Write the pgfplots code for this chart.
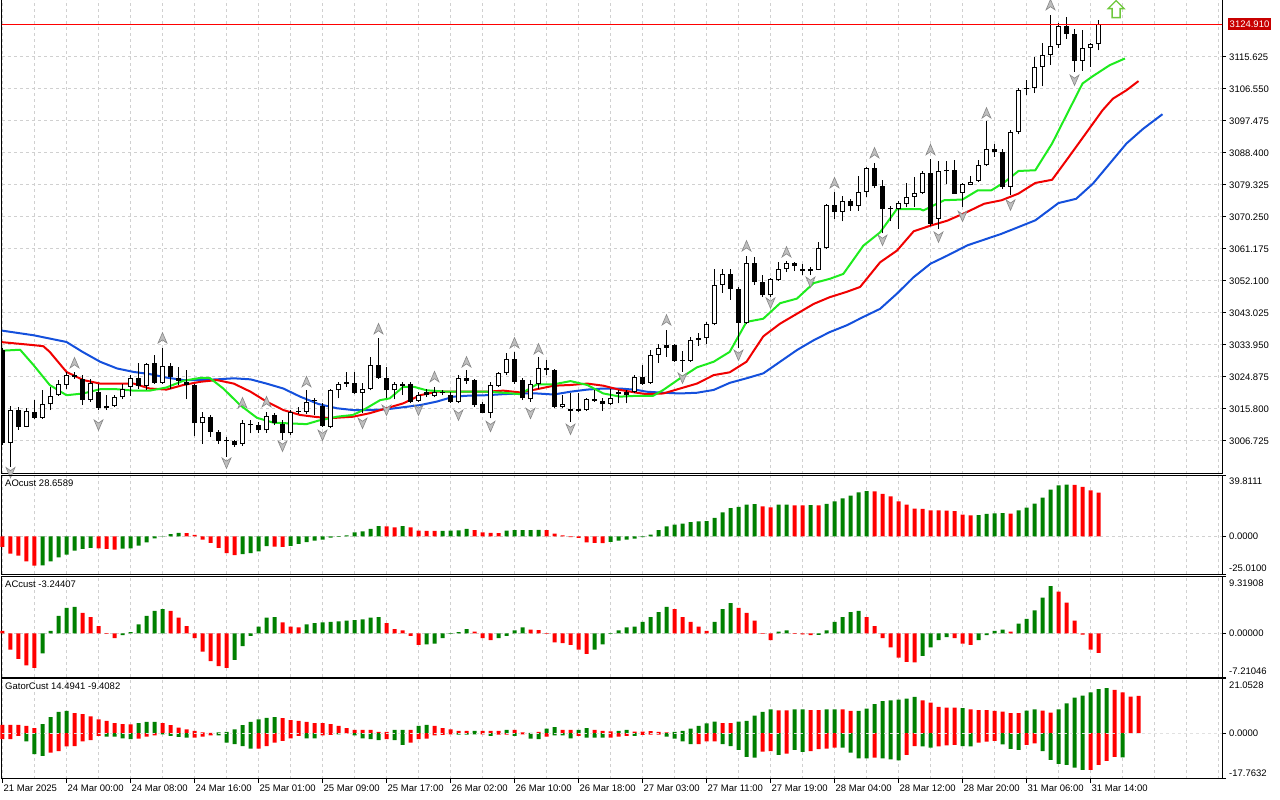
\documentclass[border=0pt]{standalone}
\usepackage{pgfplots}
\pgfplotsset{compat=1.18}
\usepackage{pgfplotstable}
\usepackage{fontspec}
\setmainfont{Liberation Sans}
\newcommand\lab{\fontsize{9.5}{11}\selectfont}
\definecolor{gridc}{RGB}{208,208,208}
\definecolor{jaw}{RGB}{20,80,220}
\definecolor{teeth}{RGB}{240,0,0}
\definecolor{lips}{RGB}{30,235,30}
\definecolor{hgreen}{RGB}{0,128,0}
\definecolor{hred}{RGB}{255,0,0}
\definecolor{frf}{RGB}{190,190,190}
\definecolor{frd}{RGB}{135,135,135}
\definecolor{sig}{RGB}{110,200,60}
\definecolor{pricebox}{RGB}{200,0,0}

\pgfdeclareplotmark{fup}{%
  \pgfpathmoveto{\pgfpoint{0pt}{5.5pt}}%
  \pgfpathlineto{\pgfpoint{4.5pt}{-5pt}}%
  \pgfpathlineto{\pgfpoint{0pt}{-1.8pt}}%
  \pgfpathlineto{\pgfpoint{-4.5pt}{-5pt}}%
  \pgfpathclose\pgfusepathqfillstroke}
\pgfdeclareplotmark{fdn}{%
  \pgfpathmoveto{\pgfpoint{0pt}{-5.5pt}}%
  \pgfpathlineto{\pgfpoint{4.5pt}{5pt}}%
  \pgfpathlineto{\pgfpoint{0pt}{1.8pt}}%
  \pgfpathlineto{\pgfpoint{-4.5pt}{5pt}}%
  \pgfpathclose\pgfusepathqfillstroke}
\pgfdeclareplotmark{sigup}{%
  \pgfpathmoveto{\pgfpoint{0pt}{8.5pt}}%
  \pgfpathlineto{\pgfpoint{8pt}{0.5pt}}%
  \pgfpathlineto{\pgfpoint{4pt}{0.5pt}}%
  \pgfpathlineto{\pgfpoint{4pt}{-8.5pt}}%
  \pgfpathlineto{\pgfpoint{-4pt}{-8.5pt}}%
  \pgfpathlineto{\pgfpoint{-4pt}{0.5pt}}%
  \pgfpathlineto{\pgfpoint{-8pt}{0.5pt}}%
  \pgfpathclose\pgfusepathqfillstroke}

\pgfplotstableread{
i o h l c
0 3032.46 3033.0 3005.5 3006.07
1 3006.26 3016.63 2999.47 3015.5
2 3015.5 3016.25 3009.84 3010.78
3 3010.8 3016.0 3010.6 3015.2
4 3014.9 3018.3 3013.0 3013.3
5 3013.3 3021.3 3013.0 3017.1
6 3017.1 3022.1 3015.5 3019.6
7 3019.7 3024.0 3019.5 3023.0
8 3022.6 3026.3 3021.6 3025.4
9 3025.4 3026.2 3024.4 3024.8
10 3024.4 3025.4 3016.9 3018.3
11 3018.3 3024.4 3017.9 3023.2
12 3020.7 3023.0 3015.5 3016.0
13 3016.6 3019.7 3015.5 3016.0
14 3016.6 3019.7 3016.3 3019.1
15 3019.1 3023.0 3018.5 3021.6
16 3022.1 3025.4 3019.5 3024.7
17 3024.7 3028.9 3021.6 3022.3
18 3022.3 3028.9 3021.2 3028.5
19 3028.9 3031.0 3023.0 3023.2
20 3023.2 3033.2 3023.0 3027.9
21 3027.9 3028.9 3021.6 3024.9
22 3024.5 3027.7 3022.6 3023.8
23 3023.5 3026.8 3018.5 3022.6
24 3022.6 3023.0 3008.0 3011.7
25 3011.7 3015.0 3005.9 3013.6
26 3013.6 3014.1 3007.8 3009.4
27 3009.4 3009.8 3005.9 3006.8
28 3006.8 3007.8 3002.3 3006.6
29 3006.6 3007.0 3005.1 3005.6
30 3005.9 3012.7 3005.3 3011.9
31 3011.2 3012.7 3008.9 3011.4
32 3011.2 3012.2 3009.1 3009.7
33 3009.7 3015.0 3009.1 3013.9
34 3014.1 3014.6 3011.2 3011.7
35 3011.5 3012.7 3007.0 3008.9
36 3008.9 3015.5 3008.4 3015.0
37 3014.9 3016.4 3014.5 3015.2
38 3015.0 3021.1 3014.5 3017.9
39 3018.0 3018.8 3014.0 3018.2
40 3016.6 3017.4 3010.8 3011.0
41 3010.8 3021.6 3010.3 3021.1
42 3021.1 3023.5 3018.8 3023.0
43 3023.5 3026.3 3022.1 3023.0
44 3023.3 3026.3 3020.0 3020.4
45 3020.4 3023.2 3014.6 3021.6
46 3021.6 3030.6 3021.1 3028.4
47 3028.4 3035.8 3024.4 3024.7
48 3024.7 3027.7 3018.8 3021.1
49 3021.1 3023.5 3018.5 3023.0
50 3023.0 3023.5 3019.7 3022.3
51 3023.0 3023.5 3017.4 3017.8
52 3018.1 3020.7 3017.8 3019.7
53 3020.7 3021.6 3019.3 3019.7
54 3019.5 3022.1 3019.1 3020.7
55 3020.2 3021.2 3019.7 3020.7
56 3019.7 3020.7 3017.6 3017.8
57 3017.8 3025.4 3017.4 3024.5
58 3024.5 3026.8 3023.0 3023.8
59 3024.0 3024.2 3016.4 3016.9
60 3017.2 3017.8 3014.6 3014.7
61 3014.7 3023.5 3013.1 3022.6
62 3022.3 3026.3 3022.1 3025.9
63 3025.9 3031.7 3025.4 3030.1
64 3030.1 3032.0 3023.0 3023.5
65 3024.0 3024.5 3018.3 3018.8
66 3018.5 3024.0 3017.8 3023.0
67 3023.0 3030.6 3021.6 3027.3
68 3027.3 3029.8 3025.4 3026.8
69 3026.8 3027.0 3016.0 3016.4
70 3016.4 3019.7 3016.0 3017.1
71 3015.7 3020.2 3012.2 3015.3
72 3015.7 3020.2 3015.0 3015.3
73 3015.5 3018.8 3015.3 3018.6
74 3018.6 3021.1 3017.8 3018.0
75 3018.0 3018.8 3015.3 3017.2
76 3017.2 3021.6 3016.9 3018.8
77 3020.7 3021.2 3017.4 3020.0
78 3020.7 3021.2 3017.4 3019.7
79 3020.7 3025.4 3020.2 3024.9
80 3024.9 3028.2 3022.6 3023.0
81 3023.2 3032.5 3023.0 3031.2
82 3031.2 3034.2 3028.9 3033.2
83 3033.2 3038.3 3030.6 3033.9
84 3033.9 3034.2 3029.2 3029.4
85 3029.8 3032.3 3026.3 3029.4
86 3029.4 3036.2 3029.2 3035.5
87 3035.8 3037.4 3033.6 3035.5
88 3035.8 3040.5 3034.2 3039.8
89 3039.8 3055.5 3039.5 3051.0
90 3051.0 3055.5 3048.7 3054.1
91 3054.1 3055.5 3046.8 3049.9
92 3049.9 3050.4 3033.0 3040.2
93 3040.2 3059.3 3040.0 3057.2
94 3057.2 3059.0 3051.1 3051.8
95 3051.8 3053.9 3047.5 3048.0
96 3048.0 3053.0 3047.5 3052.7
97 3052.4 3057.4 3052.2 3055.5
98 3055.5 3057.9 3054.6 3057.2
99 3057.2 3057.4 3054.9 3056.3
100 3055.5 3057.0 3053.7 3054.9
101 3054.8 3056.0 3053.7 3055.4
102 3055.3 3063.1 3055.1 3061.5
103 3061.5 3073.9 3061.2 3073.6
104 3073.7 3077.2 3069.7 3071.6
105 3071.8 3076.3 3069.0 3074.7
106 3074.9 3075.3 3072.0 3073.5
107 3073.5 3081.9 3072.0 3077.4
108 3077.4 3084.5 3076.0 3084.1
109 3084.1 3085.7 3078.6 3078.9
110 3079.1 3080.7 3065.6 3072.5
111 3072.7 3073.4 3069.0 3072.5
112 3072.5 3074.7 3066.9 3074.1
113 3073.9 3079.8 3073.0 3076.0
114 3076.0 3081.7 3073.2 3077.0
115 3077.0 3083.3 3076.7 3082.7
116 3082.7 3086.6 3067.8 3068.3
117 3069.7 3086.0 3066.9 3083.2
118 3083.5 3086.2 3079.6 3083.2
119 3083.5 3086.4 3076.8 3076.9
120 3077.1 3079.9 3073.1 3079.5
121 3079.4 3081.8 3079.2 3080.2
122 3080.5 3086.3 3080.2 3084.9
123 3084.9 3097.5 3084.7 3089.6
124 3089.6 3090.9 3087.3 3088.7
125 3088.7 3089.4 3078.3 3078.8
126 3078.8 3095.0 3076.4 3094.4
127 3094.4 3106.9 3093.7 3106.4
128 3106.5 3109.0 3104.8 3106.7
129 3106.7 3115.5 3105.4 3112.8
130 3112.8 3119.6 3107.3 3116.3
131 3116.3 3127.5 3113.3 3118.8
132 3119.1 3125.3 3118.3 3124.3
133 3124.3 3127.0 3120.8 3122.1
134 3122.1 3123.7 3111.4 3114.5
135 3114.5 3123.4 3111.7 3118.3
136 3118.3 3119.6 3112.8 3119.2
137 3119.2 3126.0 3117.5 3124.91
}\candles

\pgfplotstableread{
i v g
0 -7.0 0
1 -11.4 0
2 -12.7 0
3 -16.4 0
4 -19.2 0
5 -19.0 1
6 -16.4 1
7 -13.8 1
8 -12.0 1
9 -9.4 1
10 -8.3 1
11 -7.6 1
12 -7.9 0
13 -8.3 0
14 -8.7 0
15 -8.1 1
16 -7.9 1
17 -6.1 1
18 -3.9 1
19 -1.3 1
20 0.1 1
21 1.5 1
22 2.2 1
23 2.0 0
24 0.9 0
25 -2.2 0
26 -4.3 0
27 -7.6 0
28 -11.0 0
29 -12.4 0
30 -11.6 1
31 -11.0 1
32 -9.9 1
33 -6.4 1
34 -6.8 0
35 -7.0 0
36 -6.3 1
37 -5.0 1
38 -3.8 1
39 -2.9 1
40 -2.2 1
41 -0.9 1
42 -0.4 1
43 0.6 1
44 2.6 1
45 3.3 1
46 4.8 1
47 6.6 1
48 6.5 0
49 5.9 0
50 6.6 1
51 5.9 0
52 3.7 0
53 3.6 0
54 3.5 0
55 3.6 1
56 3.7 1
57 3.8 1
58 4.8 1
59 4.0 0
60 2.6 0
61 2.2 0
62 2.1 0
63 3.7 1
64 4.0 1
65 4.1 1
66 4.1 1
67 4.2 1
68 4.0 0
69 1.8 0
70 0.6 0
71 -0.5 0
72 -1.1 0
73 -4.0 0
74 -4.3 0
75 -4.4 0
76 -3.7 1
77 -2.9 1
78 -2.2 1
79 -1.6 1
80 -0.6 1
81 1.1 1
82 4.0 1
83 6.5 1
84 7.6 1
85 8.3 1
86 9.2 1
87 9.8 1
88 9.9 1
89 12.0 1
90 15.7 1
91 18.5 1
92 19.2 1
93 20.7 1
94 21.0 1
95 19.6 0
96 19.0 0
97 20.7 1
98 20.8 1
99 20.3 0
100 20.2 0
101 20.4 1
102 20.2 0
103 21.2 1
104 22.9 1
105 24.9 1
106 26.6 1
107 28.8 1
108 29.5 1
109 29.4 0
110 27.7 0
111 26.2 0
112 22.9 0
113 20.7 0
114 18.1 0
115 17.9 0
116 17.0 0
117 16.9 0
118 16.8 0
119 16.4 0
120 14.2 0
121 13.7 0
122 13.8 1
123 14.6 1
124 15.0 1
125 15.1 1
126 14.8 0
127 17.0 1
128 18.8 1
129 21.4 1
130 25.3 1
131 30.6 1
132 33.4 1
133 33.8 1
134 33.6 0
135 32.3 0
136 30.1 0
137 28.66 0
}\aotab

\pgfplotstableread{
i v g
0 0.4 0
1 -2.7 0
2 -4.2 0
3 -5.3 0
4 -5.7 0
5 -3.3 1
6 0.4 1
7 2.9 1
8 4.2 1
9 4.4 1
10 3.4 0
11 2.7 0
12 1.2 0
13 -0.1 0
14 -0.8 0
15 -0.3 1
16 0.2 1
17 1.5 1
18 2.9 1
19 3.7 1
20 4.0 1
21 3.7 0
22 2.6 0
23 1.2 0
24 -0.8 0
25 -3.0 0
26 -4.6 0
27 -5.4 0
28 -5.7 0
29 -4.4 1
30 -2.1 1
31 -0.4 1
32 1.1 1
33 2.6 1
34 2.7 1
35 1.8 0
36 1.1 0
37 1.0 0
38 1.5 1
39 1.7 1
40 1.8 1
41 1.9 1
42 2.0 1
43 2.1 1
44 2.2 1
45 2.3 1
46 2.6 1
47 2.7 1
48 1.7 0
49 0.7 0
50 0.5 0
51 -0.4 0
52 -1.9 0
53 -1.8 1
54 -1.7 1
55 -0.8 1
56 -0.1 1
57 0.2 1
58 0.7 1
59 0.3 0
60 -0.8 0
61 -1.1 0
62 -0.8 1
63 -0.4 1
64 0.5 1
65 1.0 1
66 0.6 0
67 0.55 0
68 -0.1 0
69 -1.5 0
70 -1.6 0
71 -1.9 0
72 -2.7 0
73 -3.4 0
74 -2.7 1
75 -1.8 1
76 -0.1 1
77 0.5 1
78 1.0 1
79 1.1 1
80 1.9 1
81 2.7 1
82 3.5 1
83 4.4 1
84 4.0 0
85 2.7 0
86 1.9 0
87 1.1 0
88 0.4 0
89 1.9 1
90 4.0 1
91 5.0 1
92 4.2 0
93 3.4 0
94 2.1 0
95 -0.1 0
96 -1.1 0
97 0.3 1
98 0.5 1
99 -0.1 0
100 -0.15 0
101 -0.3 0
102 -0.25 1
103 0.5 1
104 1.9 1
105 2.7 1
106 3.5 1
107 3.7 1
108 2.7 0
109 1.2 0
110 -0.8 0
111 -2.3 0
112 -4.0 0
113 -4.7 0
114 -4.8 0
115 -3.7 1
116 -2.3 1
117 -1.1 1
118 -0.6 1
119 -0.8 0
120 -1.7 0
121 -1.9 0
122 -1.1 1
123 -0.3 1
124 0.4 1
125 0.6 1
126 0.3 0
127 1.6 1
128 2.4 1
129 3.8 1
130 5.9 1
131 7.8 1
132 6.9 0
133 5.1 0
134 2.1 0
135 -0.2 0
136 -2.7 0
137 -3.24 0
}\actab

\pgfplotstableread{
i u ug l lg
0 3.2 0 -2.3 0
1 3.2 0 -2.3 0
2 3.2 0 -1.0 0
3 2.9 0 -3.2 1
4 2.0 0 -8.1 1
5 3.5 1 -8.8 1
6 6.3 1 -7.5 0
7 8.3 1 -6.9 0
8 8.7 1 -5.1 0
9 7.8 0 -5.0 0
10 7.4 0 -3.2 0
11 6.5 0 -2.7 0
12 5.4 0 -1.0 0
13 4.8 0 -1.3 1
14 3.9 0 -1.35 1
15 3.5 0 -2.0 1
16 3.4 0 -2.3 1
17 3.9 1 -2.1 0
18 4.4 1 -1.3 0
19 4.45 1 -0.8 0
20 3.9 0 -0.4 1
21 3.1 0 -1.0 1
22 2.2 0 -1.4 1
23 1.5 0 -1.7 1
24 0.9 0 -1.7 0
25 0.3 0 -1.3 0
26 0.1 0 -0.8 0
27 0.3 1 -0.8 1
28 0.5 1 -3.6 1
29 1.5 1 -4.2 1
30 3.1 1 -5.0 1
31 4.4 1 -6.0 1
32 5.4 1 -6.0 0
33 6.0 1 -5.0 0
34 6.3 1 -3.6 0
35 5.9 0 -3.0 0
36 5.1 0 -2.0 0
37 4.8 0 -1.0 0
38 4.4 0 -2.0 1
39 3.9 0 -2.0 1
40 3.9 0 -0.8 0
41 3.5 0 -0.6 0
42 2.9 0 -0.4 1
43 2.0 0 -0.1 0
44 1.3 0 -0.8 1
45 1.3 0 -2.0 1
46 1.3 0 -2.3 1
47 0.5 0 -2.7 1
48 0.5 0 -2.3 0
49 1.3 1 -2.7 1
50 1.3 1 -4.5 1
51 1.3 0 -3.6 0
52 2.9 1 -2.3 0
53 3.2 1 -2.1 0
54 2.9 0 -0.8 0
55 2.0 0 -0.6 0
56 1.5 0 -0.4 0
57 0.9 0 -0.5 1
58 0.9 0 -0.5 1
59 0.9 1 -0.4 1
60 0.9 0 -0.4 0
61 0.9 0 -1.0 1
62 0.9 0 -0.5 0
63 1.3 1 -0.5 0
64 1.3 0 -1.0 1
65 0.3 0 -0.4 0
66 0.1 1 -2.1 1
67 0.5 0 -2.3 1
68 1.8 1 -1.3 0
69 2.4 1 -0.8 1
70 1.3 0 -0.8 1
71 1.3 0 -2.0 1
72 1.3 1 -1.0 0
73 2.0 1 -1.7 1
74 1.3 0 -1.7 1
75 0.9 0 -1.7 1
76 0.7 0 -1.7 0
77 0.9 1 -1.3 0
78 1.3 1 -1.0 0
79 0.6 0 -1.0 1
80 0.6 0 -0.6 0
81 0.8 0 -0.5 0
82 0.5 0 -0.5 0
83 0.3 0 -1.3 1
84 0.5 1 -2.1 1
85 0.9 1 -3.2 1
86 1.8 1 -4.2 1
87 2.9 1 -4.2 0
88 3.8 1 -3.2 0
89 4.5 1 -3.2 0
90 3.9 0 -4.2 1
91 3.9 0 -5.0 1
92 4.5 1 -6.5 1
93 4.8 1 -9.2 1
94 6.8 1 -9.5 1
95 8.3 1 -7.1 0
96 9.3 1 -6.9 0
97 8.9 0 -8.4 1
98 8.9 0 -7.9 0
99 9.3 1 -6.5 1
100 9.3 1 -7.2 1
101 9.0 0 -6.9 0
102 9.0 0 -6.2 0
103 9.3 1 -6.0 0
104 9.3 1 -5.6 0
105 9.3 0 -5.6 1
106 8.7 0 -7.5 1
107 8.7 1 -9.8 1
108 9.6 1 -9.8 1
109 11.3 1 -9.5 0
110 12.5 1 -9.8 1
111 12.8 1 -10.1 1
112 13.0 1 -10.5 1
113 13.4 1 -8.4 0
114 14.1 1 -5.0 0
115 12.8 0 -5.1 1
116 11.9 0 -5.6 1
117 10.2 0 -5.1 0
118 9.9 0 -4.7 0
119 9.9 0 -4.5 0
120 9.7 1 -5.0 1
121 9.3 0 -5.1 1
122 9.0 0 -3.6 0
123 9.0 0 -3.3 0
124 8.7 0 -3.0 0
125 8.4 0 -4.3 1
126 7.8 0 -6.1 1
127 7.8 0 -6.5 1
128 8.8 1 -4.5 0
129 9.3 1 -3.9 0
130 8.8 0 -6.9 1
131 8.0 0 -10.3 1
132 9.3 1 -11.9 1
133 11.6 1 -12.3 1
134 13.8 1 -13.3 1
135 14.6 1 -14.2 1
136 15.9 1 -14.2 0
137 17.1 1 -12.3 0
138 17.5 1 -10.7 0
139 16.8 0 -9.2 0
140 15.9 0 -9.41 1
141 14.2 0 0 2
142 14.49 0 0 2
}\gatortab

\pgfplotsset{
  panel/.style={
    scale only axis, width=1220pt,
    xmin=-0.0625, xmax=152.4375,
    axis line style={black, line width=1pt},
    tick align=outside, major tick length=4pt, minor tick length=0pt,
    tick style={black, line width=1pt},
    xtick={0,8,...,136}, minor xtick={4,12,...,148,144,152},
    xmajorgrids=true, xminorgrids=true, ymajorgrids=true,
    major grid style={gridc, line width=1pt, dash pattern=on 3pt off 3pt},
    minor grid style={gridc, line width=1pt, dash pattern=on 3pt off 3pt},
    ytick pos=right, yticklabel pos=right, xtick pos=left,
    ticklabel style={font=\lab},
    yticklabel style={inner sep=0pt, xshift=3pt},
  },
  hideX/.style={xticklabels={}, xtick style={draw=none}},
  candle/.style={draw=none, mark=none, forget plot, error bars/.cd, y dir=plus, y explicit, error mark=none},
}

\begin{document}
\begin{tikzpicture}
\path[use as bounding box] (0,0) rectangle (1280pt,800pt);

% ---------------- main price panel ----------------
\begin{axis}[panel, hideX, at={(2pt,800pt)}, anchor=north west, height=474pt,
  ymin=2997.36, ymax=3131.79,
  ytick={3006.725,3015.8,3024.875,3033.95,3043.025,3052.1,3061.175,3070.25,3079.325,3088.4,3097.475,3106.55,3115.625},
  yticklabels={3006.725,3015.800,3024.875,3033.950,3043.025,3052.100,3061.175,3070.250,3079.325,3088.400,3097.475,3106.550,3115.625}]

% Alligator jaw (blue)
\addplot[jaw, line width=2pt, line join=round] coordinates {
(-0.3,3038.1) (3.9,3036.7) (8,3034.8) (10,3032.0) (12.2,3029.2) (14.3,3027.3) (16.4,3026.3) (18.4,3025.7)
(20.5,3024.7) (22.6,3024.0) (24.7,3024.0) (26.8,3024.2) (28.9,3024.5) (31,3024.2) (33,3023.0) (35.1,3021.6)
(37.2,3019.3) (39.5,3017.2) (41.8,3016.0) (43.8,3015.5) (45.9,3015.5) (48,3015.7) (50.1,3016.3) (52.2,3016.9)
(54.3,3017.9) (56.4,3019.3) (58.4,3019.6) (60.5,3019.7) (62.6,3020.0) (64.7,3020.2) (66.8,3020.2) (68.9,3019.9)
(71,3020.7) (73.1,3021.3) (75.1,3021.6) (77.2,3021.6) (79.3,3021.2) (80.5,3020.7) (82.6,3020.4) (84.7,3020.2)
(86.8,3020.4) (88.9,3021.2) (90.9,3023.2) (93,3024.5) (95.1,3025.9) (97.2,3029.2) (99.3,3032.5) (101.4,3035.3)
(103.4,3037.6) (105.5,3039.5) (107.6,3041.9) (109.7,3044.2) (111.8,3048.5) (113.9,3053.2) (116,3057.0) (118.1,3059.3)
(120.6,3062.2) (124.9,3065.5) (129.1,3069.3) (132,3074.2) (134.2,3075.4) (136.3,3079.7) (138.4,3085.4) (140.5,3091.1)
(142.6,3095.3) (145,3099.4)};
% Alligator teeth (red)
\addplot[teeth, line width=2pt, line join=round] coordinates {
(-0.3,3034.8) (3.9,3033.9) (5.1,3033.6) (5.9,3032.0) (8,3026.3) (10.1,3024.0) (12.2,3023.0) (16.4,3023.0)
(18.4,3021.6) (20.5,3021.3) (22.6,3022.6) (24.7,3023.5) (26.8,3024.0) (28.9,3023.0) (31,3020.7) (33,3017.9)
(35.1,3015.5) (37.2,3014.1) (39.3,3013.5) (41,3013.2) (43.8,3013.6) (45.9,3014.6) (48,3016.0) (50.1,3017.4)
(52.2,3019.7) (54.3,3020.7) (60.5,3020.7) (62.6,3021.0) (64.7,3020.5) (66.8,3021.4) (68.9,3022.4) (71,3022.6)
(73.1,3023.0) (75.1,3022.4) (77.2,3021.2) (79.3,3020.4) (80.5,3020.0) (82.6,3020.2) (84.7,3021.6) (86.8,3023.0)
(88.9,3025.4) (90.9,3026.2) (93,3029.2) (95.1,3036.4) (97.2,3040.0) (99.3,3042.8) (101.4,3045.6) (103.4,3047.5)
(105.5,3049.0) (107.2,3050.4) (109.7,3057.4) (111.8,3060.7) (113.9,3066.2) (116,3067.8) (118.1,3069.2) (120.6,3071.7)
(122.7,3074.0) (124.9,3075.0) (127,3076.9) (129.1,3079.9) (131.2,3080.8) (133.3,3087.3) (135.4,3093.9) (137.5,3100.5)
(138.8,3103.8) (140.5,3106.2) (142,3108.8)};
% Alligator lips (green)
\addplot[lips, line width=2pt, line join=round] coordinates {
(-0.3,3032.3) (2.2,3032.6) (3.9,3028.2) (5.9,3022.6) (8,3019.7) (10.1,3020.2) (12.2,3021.4) (14.3,3021.4)
(16.4,3021.0) (18.4,3021.0) (20.5,3021.9) (22.6,3023.8) (24.7,3024.6) (25.9,3024.6) (27.6,3021.6) (29.7,3016.9)
(31.8,3013.3) (33.9,3011.9) (36,3011.7) (38,3011.5) (39.5,3012.5) (41.8,3013.6) (43.8,3014.1) (45.1,3015.5)
(47.2,3018.3) (48.4,3018.8) (50.1,3022.1) (51.4,3022.1) (53,3021.1) (55.5,3020.7) (60.5,3020.7) (62.6,3020.4)
(64.7,3020.0) (66.8,3022.8) (68.9,3022.8) (71,3023.7) (73.1,3022.6) (75.1,3020.2) (77.2,3019.3) (79,3019.5)
(81.3,3019.5) (82.6,3021.2) (84.7,3024.5) (86.8,3027.6) (88.9,3029.2) (90.9,3032.0) (93,3040.5) (95.1,3041.4)
(97.2,3045.8) (99.3,3047.1) (101.4,3051.5) (103.4,3052.7) (105.1,3054.1) (107.6,3062.1) (109.7,3065.9) (111.8,3072.5)
(114.7,3072.5) (115.1,3072.1) (117.7,3075.0) (120,3075.2) (121.9,3077.8) (123.6,3077.8) (125.3,3080.2) (127,3083.3)
(129.1,3083.5) (131.2,3091.1) (133.3,3100.5) (135,3108.1) (136.3,3110.2) (138.4,3113.3) (140.3,3115.2)};

% candles: wicks, bodies, hollow insides
\addplot[candle, error bar style={draw=black, line width=1pt}]
  table[x=i, y=l, y error plus expr={\thisrow{h}-\thisrow{l}}] {\candles};
\addplot[candle, error bar style={draw=black, line width=5pt}]
  table[x=i, y expr={min(\thisrow{o},\thisrow{c})}, y error plus expr={max(abs(\thisrow{c}-\thisrow{o}),0.3)}] {\candles};
\addplot[restrict expr to domain={\thisrow{c}-\thisrow{o}}{0.7:1000}, candle, error bar style={draw=white, line width=3pt}]
  table[x=i, y expr={\thisrow{o}+0.2836}, y error plus expr={\thisrow{c}-\thisrow{o}-0.5672}] {\candles};

% current price line
\addplot[red, line width=1pt] coordinates {(-1,3124.91) (153,3124.91)};

% fractals
\addplot[only marks, mark=fup, mark options={fill=frf, draw=frd, line width=0.6pt}] coordinates {
(9,3028.85) (20,3035.9) (30,3017.5) (33,3017.8) (38,3023.5) (47,3038.5) (54,3024.9) (58,3029.1) (64,3034.5)
(67,3032.8) (83,3041.0) (93,3062.0) (98,3060.3) (104,3079.9) (109,3088.4) (116,3089.3) (123,3099.7) (131,3130.4)};
\addplot[only marks, mark=fdn, mark options={fill=frf, draw=frd, line width=0.6pt}] coordinates {
(1,2997.8) (12,3011.3) (28,3000.5) (35,3005.3) (40,3008.4) (45,3011.8) (48,3015.5) (52,3015.5) (57,3014.1)
(61,3010.9) (66,3014.6) (71,3010.1) (85,3024.6) (92,3031.1) (96,3045.9) (101,3051.8) (110,3063.7) (117,3064.6)
(120,3070.5) (126,3073.7) (134,3109.1)};
% signal arrow
\addplot[only marks, mark=sigup, mark options={fill=white, draw=sig, line width=1.3pt}] coordinates {(139.2,3129.2)};

\coordinate (pl) at (axis cs:152.4375,3124.91);
\end{axis}
\node[fill=pricebox, text=white, font=\lab, anchor=west, inner sep=1.5pt, minimum height=12pt] at ([xshift=6pt]pl) {3124.910};

% ---------------- AO panel ----------------
\begin{axis}[panel, hideX, at={(2pt,324.5pt)}, anchor=north west, height=99pt, clip=false,
  ymin=-25.01, ymax=39.8111, ytick={-25.01,0,39.8111}, yticklabels={}]
\addplot[ybar, bar width=4pt, bar shift=0pt, draw=none, fill=hgreen, restrict expr to domain={\thisrow{g}}{0.5:1.5}] table[x=i,y=v] {\aotab};
\addplot[ybar, bar width=4pt, bar shift=0pt, draw=none, fill=hred, restrict expr to domain={\thisrow{g}}{-0.5:0.5}] table[x=i,y=v] {\aotab};
\node[font=\lab, anchor=north west, inner sep=0pt, xshift=3pt, yshift=-4pt] at (rel axis cs:0,1) {AOcust 28.6589};
\node[font=\lab, anchor=north west, inner sep=0pt, xshift=7pt, yshift=-1.8pt] at (rel axis cs:1,1) {39.8111};
\node[font=\lab, anchor=west, inner sep=0pt, xshift=7pt] at (rel axis cs:1,0.3858) {0.0000};
\node[font=\lab, anchor=south west, inner sep=0pt, xshift=7pt, yshift=2.4pt] at (rel axis cs:1,0) {-25.0100};
\end{axis}

% ---------------- AC panel ----------------
\begin{axis}[panel, hideX, at={(2pt,223pt)}, anchor=north west, height=100pt, clip=false,
  ymin=-7.21046, ymax=9.31908, ytick={-7.21046,0,9.31908}, yticklabels={}]
\addplot[ybar, bar width=4pt, bar shift=0pt, draw=none, fill=hgreen, restrict expr to domain={\thisrow{g}}{0.5:1.5}] table[x=i,y=v] {\actab};
\addplot[ybar, bar width=4pt, bar shift=0pt, draw=none, fill=hred, restrict expr to domain={\thisrow{g}}{-0.5:0.5}] table[x=i,y=v] {\actab};
\node[font=\lab, anchor=north west, inner sep=0pt, xshift=3pt, yshift=-4pt] at (rel axis cs:0,1) {ACcust -3.24407};
\node[font=\lab, anchor=north west, inner sep=0pt, xshift=7pt, yshift=-2.6pt] at (rel axis cs:1,1) {9.31908};
\node[font=\lab, anchor=west, inner sep=0pt, xshift=7pt] at (rel axis cs:1,0.4362) {0.00000};
\node[font=\lab, anchor=south west, inner sep=0pt, xshift=7pt, yshift=2.3pt] at (rel axis cs:1,0) {-7.21046};
\end{axis}

% ---------------- Gator panel ----------------
\begin{axis}[panel, at={(2pt,121pt)}, anchor=north west, height=100pt, clip=false,
  ymin=-17.7632, ymax=21.0528, ytick={-17.7632,0,21.0528}, yticklabels={},
  xticklabels={21 Mar 2025,24 Mar 00:00,24 Mar 08:00,24 Mar 16:00,25 Mar 01:00,25 Mar 09:00,25 Mar 17:00,26 Mar 02:00,26 Mar 10:00,26 Mar 18:00,27 Mar 03:00,27 Mar 11:00,27 Mar 19:00,28 Mar 04:00,28 Mar 12:00,28 Mar 20:00,31 Mar 06:00,31 Mar 14:00},
  xticklabel style={anchor=north west, inner sep=0pt, xshift=1pt, yshift=-2pt}]
\addplot[ybar, bar width=4pt, bar shift=0pt, draw=none, fill=hgreen, restrict expr to domain={\thisrow{ug}}{0.5:1.5}] table[x=i,y=u] {\gatortab};
\addplot[ybar, bar width=4pt, bar shift=0pt, draw=none, fill=hred, restrict expr to domain={\thisrow{ug}}{-0.5:0.5}] table[x=i,y=u] {\gatortab};
\addplot[ybar, bar width=4pt, bar shift=0pt, draw=none, fill=hgreen, restrict expr to domain={\thisrow{lg}}{0.5:1.5}] table[x=i,y=l] {\gatortab};
\addplot[ybar, bar width=4pt, bar shift=0pt, draw=none, fill=hred, restrict expr to domain={\thisrow{lg}}{-0.5:0.5}] table[x=i,y=l] {\gatortab};
\addplot[color={rgb,255:red,225;green,225;blue,225}, line width=1pt, dash pattern=on 3pt off 3pt] coordinates {(-0.0625,0) (152.4375,0)};
\node[font=\lab, anchor=north west, inner sep=0pt, xshift=3pt, yshift=-4pt] at (rel axis cs:0,1) {GatorCust 14.4941 -9.4082};
\node[font=\lab, anchor=north west, inner sep=0pt, xshift=7pt, yshift=-2.3pt] at (rel axis cs:1,1) {21.0528};
\node[font=\lab, anchor=west, inner sep=0pt, xshift=7pt] at (rel axis cs:1,0.4576) {0.0000};
\node[font=\lab, anchor=south west, inner sep=0pt, xshift=7pt, yshift=2.6pt] at (rel axis cs:1,0) {-17.7632};
\end{axis}
\end{tikzpicture}
\end{document}
